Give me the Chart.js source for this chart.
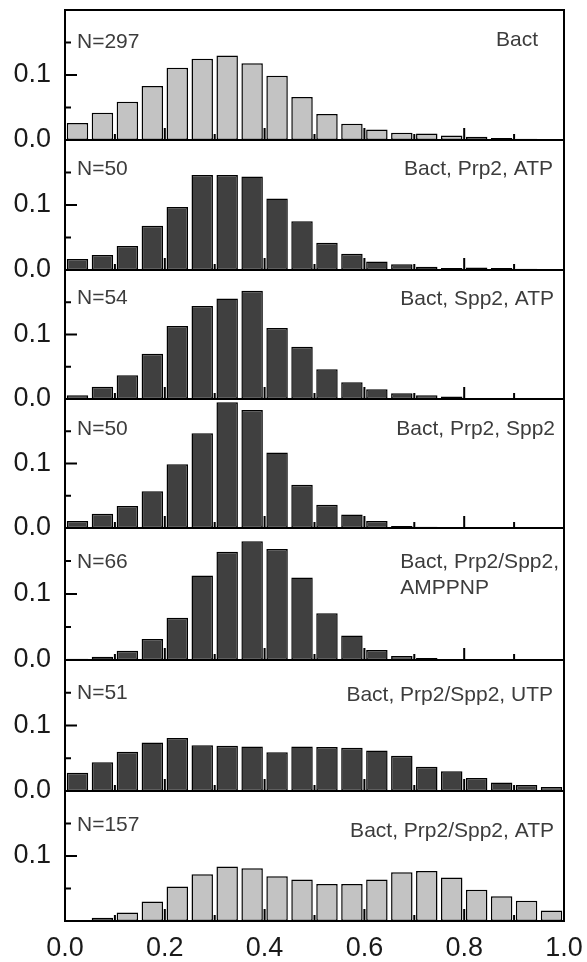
<!DOCTYPE html>
<html>
<head>
<meta charset="utf-8">
<script src="https://cdn.jsdelivr.net/npm/chart.js@4/dist/chart.umd.min.js"></script>
<style>
  body { margin: 0; background: #fff; }
  #wrap { position: relative; width: 587px; height: 962px; overflow: hidden; }
  #wrap canvas { position: absolute; left: 0; }
</style>
</head>
<body>
<div id="wrap"></div>
<script>
// bin centres (bin width 0.05)
const binCenters = [0.025, 0.075, 0.125, 0.175, 0.225, 0.275, 0.325, 0.375, 0.425, 0.475,
                    0.525, 0.575, 0.625, 0.675, 0.725, 0.775, 0.825, 0.875, 0.925, 0.975];

const bact        = [0.026, 0.042, 0.059, 0.083, 0.111, 0.125, 0.130, 0.118, 0.099, 0.066,
                     0.040, 0.025, 0.016, 0.011, 0.010, 0.007, 0.005, 0.003, 0.002, 0.001];
const prp2Atp     = [0.017, 0.023, 0.037, 0.068, 0.097, 0.146, 0.146, 0.144, 0.110, 0.075,
                     0.042, 0.025, 0.013, 0.009, 0.005, 0.003, 0.004, 0.003, 0.002, 0.000];
const spp2Atp     = [0.006, 0.019, 0.037, 0.070, 0.113, 0.144, 0.156, 0.168, 0.110, 0.081,
                     0.046, 0.026, 0.015, 0.009, 0.006, 0.004, 0.000, 0.000, 0.000, 0.000];
const prp2Spp2    = [0.011, 0.022, 0.034, 0.057, 0.099, 0.147, 0.195, 0.183, 0.117, 0.067,
                     0.036, 0.021, 0.011, 0.003, 0.002, 0.000, 0.000, 0.000, 0.000, 0.000];
const amppnp      = [0.002, 0.005, 0.014, 0.032, 0.064, 0.128, 0.164, 0.180, 0.168, 0.125,
                     0.071, 0.037, 0.015, 0.006, 0.003, 0.001, 0.000, 0.000, 0.000, 0.000];
const utp         = [0.028, 0.044, 0.060, 0.074, 0.081, 0.070, 0.069, 0.068, 0.059, 0.068,
                     0.067, 0.066, 0.062, 0.054, 0.037, 0.030, 0.020, 0.013, 0.009, 0.006];
const prp2Spp2Atp = [0.001, 0.005, 0.013, 0.030, 0.053, 0.072, 0.084, 0.081, 0.069, 0.064,
                     0.057, 0.057, 0.064, 0.075, 0.077, 0.067, 0.048, 0.038, 0.031, 0.016];

const panelSeries = [bact, prp2Atp, spp2Atp, prp2Spp2, amppnp, utp, prp2Spp2Atp];
const panelCounts = [297, 50, 54, 50, 66, 51, 157];
const panelLabels = [
  ["Bact"],
  ["Bact, Prp2, ATP"],
  ["Bact, Spp2, ATP"],
  ["Bact, Prp2, Spp2"],
  ["Bact, Prp2/Spp2,", "AMPPNP"],
  ["Bact, Prp2/Spp2, UTP"],
  ["Bact, Prp2/Spp2, ATP"]
];
const xTickLabels = ["0.0", "0.2", "0.4", "0.6", "0.8", "1.0"];
const yTickLabels = ["0.0", "0.1"];

// layout / style
const panelTops = [10, 140, 270, 399, 528, 660, 791];
const panelBottoms = [140, 270, 399, 528, 660, 791, 921];
const labelRightInset = [26, 11, 10, 9, 5, 11, 10];
const countOffsetY = [32, 29, 28, 30, 34, 33, 34];
const labelOffsetY = [30, 29, 29, 30, 34, 35, 40];
const lightFill = "#c3c3c3";
const darkFill = "#404040";
const fillColors = [lightFill, darkFill, darkFill, darkFill, darkFill, darkFill, lightFill];
const fontFamily = "'Liberation Sans', Arial, sans-serif";
const PAD = 8;

const wrap = document.getElementById("wrap");

// no automatic label padding: the plot area must sit exactly in its slot
function noPad(s) {
  s.paddingTop = 0;
  s.paddingBottom = 0;
  s.paddingLeft = 0;
  s.paddingRight = 0;
}

const framePlugin = {
  id: "frame",
  beforeDatasetsDraw(chart) {
    const ctx = chart.ctx;
    const area = chart.chartArea;
    const x = chart.scales.x;
    ctx.save();
    ctx.strokeStyle = "#000";
    ctx.lineWidth = 2;
    ctx.beginPath();
    // inward x ticks along the bottom
    [0.1, 0.2, 0.3, 0.4, 0.5, 0.6, 0.7, 0.8, 0.9].forEach(v => {
      const px = x.getPixelForValue(v);
      const len = Math.round(v * 10) % 2 === 0 ? 12 : 6;
      ctx.moveTo(px, area.bottom);
      ctx.lineTo(px, area.bottom - len);
    });
    ctx.stroke();
    ctx.restore();
  },
  afterDraw(chart) {
    const ctx = chart.ctx;
    const area = chart.chartArea;
    const y = chart.scales.y;
    const i = chart.options.plugins.frame.index;
    ctx.save();
    ctx.strokeStyle = "#000";
    ctx.lineWidth = 2;
    ctx.strokeRect(area.left, area.top, area.right - area.left, area.bottom - area.top);
    ctx.beginPath();
    [0.05, 0.1, 0.15].forEach(v => {
      const py = y.getPixelForValue(v);
      const len = v === 0.1 ? 12 : 6;
      ctx.moveTo(area.left, py);
      ctx.lineTo(area.left + len, py);
    });
    ctx.stroke();

    ctx.fillStyle = "#3c3c3c";
    ctx.font = "21px " + fontFamily;
    ctx.textBaseline = "middle";
    ctx.textAlign = "left";
    ctx.fillText("N=" + panelCounts[i], area.left + 12, area.top + countOffsetY[i]);
    const lines = panelLabels[i];
    const w = ctx.measureText(lines[0]).width;
    const lx = area.right - labelRightInset[i] - w;
    lines.forEach((t, k) => ctx.fillText(t, lx, area.top + labelOffsetY[i] + k * 26));
    ctx.restore();
  }
};

panelSeries.forEach((series, i) => {
  const isLast = i === panelSeries.length - 1;
  const plotH = panelBottoms[i] - panelTops[i];
  const xAxisH = isLast ? 962 - panelBottoms[i] : 0;
  const canvas = document.createElement("canvas");
  const h = PAD + plotH + (isLast ? xAxisH : PAD);
  canvas.width = 587;
  canvas.height = h;
  canvas.style.top = (panelTops[i] - PAD) + "px";
  canvas.style.width = "587px";
  canvas.style.height = h + "px";
  wrap.appendChild(canvas);

  new Chart(canvas.getContext("2d"), {
    type: "bar",
    data: {
      datasets: [{
        data: binCenters.map((c, k) => ({ x: c, y: series[k] })),
        backgroundColor: fillColors[i],
        borderColor: "#000",
        borderWidth: 1.5,
        borderSkipped: false,
        barPercentage: 0.86,
        categoryPercentage: 1
      }]
    },
    options: {
      responsive: false,
      animation: false,
      layout: {
        autoPadding: false,
        padding: { top: PAD, bottom: isLast ? 0 : PAD, left: 0, right: 23 }
      },
      plugins: {
        legend: { display: false },
        tooltip: { enabled: false },
        frame: { index: i }
      },
      scales: {
        x: {
          type: "linear",
          min: 0,
          max: 1,
          offset: false,
          display: isLast,
          grid: { display: false, drawTicks: false },
          border: { display: false },
          afterBuildTicks: s => { s.ticks = xTickLabels.map(t => ({ value: parseFloat(t) })); },
          afterFit: s => { s.height = xAxisH; noPad(s); },
          ticks: {
            padding: 11,
            maxRotation: 0,
            autoSkip: false,
            color: "#1a1a1a",
            font: { family: fontFamily, size: 27 },
            callback: v => v.toFixed(1)
          }
        },
        y: {
          min: 0,
          max: 0.2,
          grid: { display: false, drawTicks: false },
          border: { display: false },
          afterBuildTicks: s => {
            const labels = isLast ? yTickLabels.slice(1) : yTickLabels;
            s.ticks = labels.map(t => ({ value: parseFloat(t) }));
          },
          afterFit: s => { s.width = 65; noPad(s); },
          ticks: {
            padding: 14,
            color: "#1a1a1a",
            font: { family: fontFamily, size: 27 },
            callback: v => v.toFixed(1)
          }
        }
      }
    },
    plugins: [framePlugin]
  });
});
</script>
</body>
</html>
